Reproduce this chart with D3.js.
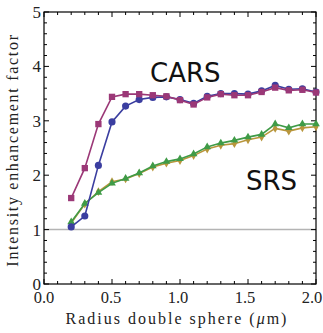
<!DOCTYPE html>
<html>
<head>
<meta charset="utf-8">
<script src="https://cdn.jsdelivr.net/npm/d3@7"></script>
<style>
  html, body { margin: 0; padding: 0; background: #fff; }
  svg { display: block; }
</style>
</head>
<body>
<svg id="chart"></svg>
<script>
/* Intensity enhancement factor vs radius of double sphere */

// Data
const radius = [0.2, 0.3, 0.4, 0.5, 0.6, 0.7, 0.8, 0.9, 1.0, 1.1, 1.2, 1.3, 1.4, 1.5, 1.6, 1.7, 1.8, 1.9, 2.0];
const carsSquares = [1.58, 2.13, 2.94, 3.44, 3.49, 3.49, 3.47, 3.45, 3.38, 3.30, 3.43, 3.49, 3.47, 3.47, 3.53, 3.61, 3.56, 3.57, 3.52];
const carsCircles = [1.05, 1.25, 2.18, 2.98, 3.27, 3.39, 3.43, 3.44, 3.39, 3.32, 3.45, 3.50, 3.50, 3.49, 3.55, 3.65, 3.58, 3.59, 3.53];
const srsDiamonds = [1.12, 1.47, 1.70, 1.88, 1.93, 2.03, 2.15, 2.22, 2.27, 2.36, 2.48, 2.55, 2.58, 2.65, 2.70, 2.86, 2.81, 2.87, 2.89];
const srsTriangles = [1.14, 1.48, 1.68, 1.85, 1.94, 2.04, 2.17, 2.25, 2.30, 2.39, 2.52, 2.59, 2.64, 2.70, 2.75, 2.94, 2.87, 2.94, 2.94];
const xTicks = [0.0, 0.5, 1.0, 1.5, 2.0];
const yTicks = [0, 1, 2, 3, 4, 5];

const width = 323, height = 333;
const margin = { top: 12, right: 7, bottom: 49, left: 44 };
const innerW = width - margin.left - margin.right;
const innerH = height - margin.top - margin.bottom;

const svg = d3.select('#chart')
    .attr('width', width)
    .attr('height', height);

const g = svg.append('g')
    .attr('transform', `translate(${margin.left},${margin.top})`);

// Scales
const x = d3.scaleLinear().domain([0, 2]).range([0, innerW]);
const y = d3.scaleLinear().domain([0, 5]).range([innerH, 0]);

// Reference line at 1
g.append('line')
    .attr('x1', 0).attr('x2', innerW)
    .attr('y1', y(1)).attr('y2', y(1))
    .attr('stroke', '#b4b4b4')
    .attr('stroke-width', 1.5);

// Frame ticks (all four sides, pointing inward)
const xMinor = d3.range(0, 2.0001, 0.1);
const yMinor = d3.range(0, 5.0001, 0.2);
const tickGroup = g.append('g').attr('stroke', '#000').attr('stroke-width', 1);

function isMajor(v, step) {
    return Math.abs(v / step - Math.round(v / step)) < 1e-6;
}

tickGroup.selectAll('.xb')
    .data(xMinor)
    .join('line')
    .attr('x1', d => x(d)).attr('x2', d => x(d))
    .attr('y1', innerH).attr('y2', d => innerH - (isMajor(d, 0.5) ? 5 : 3));
tickGroup.selectAll('.xt')
    .data(xMinor)
    .join('line')
    .attr('x1', d => x(d)).attr('x2', d => x(d))
    .attr('y1', 0).attr('y2', d => (isMajor(d, 0.5) ? 5 : 3));
tickGroup.selectAll('.yl')
    .data(yMinor)
    .join('line')
    .attr('y1', d => y(d)).attr('y2', d => y(d))
    .attr('x1', 0).attr('x2', d => (isMajor(d, 1) ? 5 : 3));
tickGroup.selectAll('.yr')
    .data(yMinor)
    .join('line')
    .attr('y1', d => y(d)).attr('y2', d => y(d))
    .attr('x1', innerW).attr('x2', d => innerW - (isMajor(d, 1) ? 5 : 3));

// Frame
g.append('rect')
    .attr('width', innerW)
    .attr('height', innerH)
    .attr('fill', 'none')
    .attr('stroke', '#000')
    .attr('stroke-width', 1.2);

// Tick labels
const serif = '"Liberation Serif", "Times New Roman", serif';
g.selectAll('.xlab')
    .data(xTicks)
    .join('text')
    .attr('x', d => Math.min(x(d) - d * 2, width - margin.left - 11))
    .attr('y', innerH + 19)
    .attr('text-anchor', 'middle')
    .attr('font-family', serif)
    .attr('font-size', 16.5)
    .attr('fill', '#222')
    .text(d => d.toFixed(1));

g.selectAll('.ylab')
    .data(yTicks)
    .join('text')
    .attr('x', -3)
    .attr('y', d => y(d) + 6)
    .attr('text-anchor', 'end')
    .attr('font-family', serif)
    .attr('font-size', 17)
    .attr('fill', '#222')
    .text(d => d);

// Axis titles
svg.append('text')
    .attr('x', margin.left + innerW / 2 - 3)
    .attr('y', 324)
    .attr('text-anchor', 'middle')
    .attr('font-family', serif)
    .attr('font-size', 16)
    .attr('letter-spacing', 2)
    .attr('fill', '#222')
    .html('Radius double sphere (<tspan font-style="italic">μ</tspan>m)');

svg.append('text')
    .attr('transform', `translate(18,${margin.top + innerH / 2 + 2}) rotate(-90)`)
    .attr('text-anchor', 'middle')
    .attr('font-family', serif)
    .attr('font-size', 16)
    .attr('letter-spacing', 1.7)
    .attr('fill', '#222')
    .text('Intensity enhancement factor');

// Series
const series = [
    { name: 'srsDiamonds', values: srsDiamonds, color: '#b8963c', symbol: d3.symbolDiamond, size: 22 },
    { name: 'srsTriangles', values: srsTriangles, color: '#3f9b47', symbol: d3.symbolTriangle, size: 26 },
    { name: 'carsCircles', values: carsCircles, color: '#3b3ea0', symbol: d3.symbolCircle, size: 40 },
    { name: 'carsSquares', values: carsSquares, color: '#9b3877', symbol: d3.symbolSquare, size: 40 }
];

const line = d3.line()
    .x(d => x(d[0]))
    .y(d => y(d[1]));

series.forEach(s => {
    const pts = radius.map((r, i) => [r, s.values[i]]);
    const sg = g.append('g').attr('class', 'series ' + s.name);
    sg.append('path')
        .datum(pts)
        .attr('fill', 'none')
        .attr('stroke', s.color)
        .attr('stroke-width', 1.6)
        .attr('d', line);
    sg.selectAll('path.marker')
        .data(pts)
        .join('path')
        .attr('class', 'marker')
        .attr('transform', d => `translate(${x(d[0])},${y(d[1])})`)
        .attr('d', d3.symbol().type(s.symbol).size(s.size))
        .attr('fill', s.color);
});

// Labels
const sans = '"DejaVu Sans", "Open Sans", sans-serif';
g.append('text')
    .attr('x', x(0.78))
    .attr('y', y(3.72))
    .attr('font-family', sans)
    .attr('font-size', 26)
    .attr('fill', '#111')
    .text('CARS');

g.append('text')
    .attr('x', x(1.485))
    .attr('y', y(1.72))
    .attr('font-family', sans)
    .attr('font-size', 26)
    .attr('fill', '#111')
    .text('SRS');
</script>
</body>
</html>
